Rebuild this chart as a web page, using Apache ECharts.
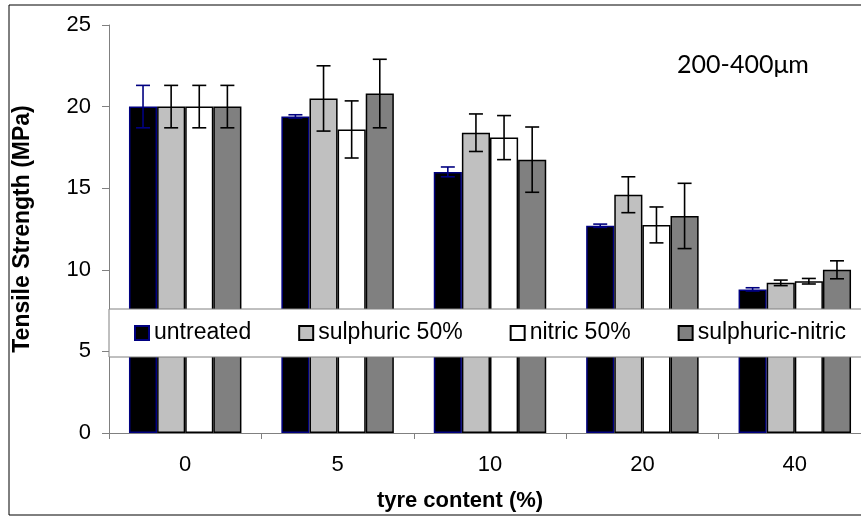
<!DOCTYPE html>
<html>
<head>
<meta charset="utf-8">
<script src="https://cdn.jsdelivr.net/npm/echarts@6/dist/echarts.min.js"></script>
<style>
  html, body { margin: 0; padding: 0; background: #ffffff; overflow: hidden; }
  /* the plot area runs past the right edge of the window, so the canvas is wider */
  #chart { width: 900px; height: 520px; }
</style>
</head>
<body>
<div id="chart"></div>
<script>
// Tyre content groups (% by weight)
var categories = ['0', '5', '10', '20', '40'];

// Mean tensile strength (MPa) and standard deviations per treatment
var untreated      = [20.0, 19.4, 16.0, 12.7, 8.8];
var untreatedErr   = [1.3, 0.1, 0.3, 0.1, 0.1];
var sulphuric      = [20.0, 20.5, 18.4, 14.6, 9.2];
var sulphuricErr   = [1.3, 2.0, 1.15, 1.1, 0.17];
var nitric         = [20.0, 18.6, 18.1, 12.75, 9.3];
var nitricErr      = [1.3, 1.75, 1.35, 1.1, 0.17];
var sulphNitric    = [20.0, 20.8, 16.75, 13.3, 10.0];
var sulphNitricErr = [1.3, 2.1, 2.0, 2.0, 0.55];

var seriesNames = ['untreated', 'sulphuric 50%', 'nitric 50%', 'sulphuric-nitric'];
var yTicks = [0, 5, 10, 15, 20, 25];

var means = [untreated, sulphuric, nitric, sulphNitric];
var errs = [untreatedErr, sulphuricErr, nitricErr, sulphNitricErr];
var fills = ['#000000', '#c0c0c0', '#ffffff', '#808080'];
var edges = ['#000080', '#000000', '#000000', '#000000'];
var whiskerColors = ['#000080', '#000000', '#000000', '#000000'];

var GAP = 0.262; // category gap ratio shared by bars and whiskers
var FONT = '"Liberation Sans", Arial, sans-serif';

var chart = echarts.init(document.getElementById('chart'), null, { renderer: 'canvas' });

function whiskerSeries(idx) {
  var data = means[idx].map(function (v, i) { return [i, v, errs[idx][i]]; });
  return {
    type: 'custom',
    name: 'err-' + idx,
    z: 5,
    silent: true,
    data: data,
    encode: { x: 0, y: 1 },
    renderItem: function (params, api) {
      var cat = api.value(0), v = api.value(1), e = api.value(2);
      var band = api.size([1, 0])[0];
      var barW = band * (1 - GAP) / 4;
      var x = api.coord([cat, v])[0] + (idx - 1.5) * barW;
      var yTop = api.coord([cat, v + e])[1];
      var yBot = api.coord([cat, v - e])[1];
      var half = 7;
      var st = { stroke: whiskerColors[idx], lineWidth: 1.6 };
      return {
        type: 'group',
        children: [
          { type: 'line', shape: { x1: x, y1: yTop, x2: x, y2: yBot }, style: st },
          { type: 'line', shape: { x1: x - half, y1: yTop, x2: x + half, y2: yTop }, style: st },
          { type: 'line', shape: { x1: x - half, y1: yBot, x2: x + half, y2: yBot }, style: st }
        ]
      };
    }
  };
}

var series = [];
seriesNames.forEach(function (name, idx) {
  series.push({
    type: 'bar',
    name: name,
    data: means[idx],
    barGap: '0%',
    barCategoryGap: (GAP * 100) + '%',
    itemStyle: { color: fills[idx], borderColor: edges[idx], borderWidth: 1.5 },
    z: 2
  });
});
seriesNames.forEach(function (name, idx) { series.push(whiskerSeries(idx)); });

var option = {
  animation: false,
  backgroundColor: '#ffffff',
  title: [
    {
      text: '200-400μm',
      left: 738, top: 47, textAlign: 'center',
      textStyle: { fontFamily: 'Lato, "Open Sans", sans-serif', fontSize: 25, fontWeight: 'normal', color: '#000' }
    },
    {
      text: 'tyre content (%)',
      left: 455, top: 485, textAlign: 'center',
      textStyle: { fontFamily: FONT, fontSize: 22, fontWeight: 'bold', color: '#000' }
    }
  ],
  graphic: [
    {
      type: 'rect', silent: true, z: -10,
      shape: { x: 9, y: 5, width: 880, height: 510 },
      style: { fill: 'none', stroke: '#000000', lineWidth: 1 }
    }
  ],
  legend: {
    data: seriesNames,
    left: 109, top: 309,
    width: 790,
    orient: 'horizontal',
    padding: [12, 45, 12, 25],
    itemGap: 47,
    itemWidth: 14, itemHeight: 14,
    icon: 'rect',
    backgroundColor: '#ffffff',
    borderColor: '#808080',
    borderWidth: 1,
    z: 10,
    selectedMode: false,
    textStyle: { fontFamily: FONT, fontSize: 23, lineHeight: 24, color: '#000' }
  },
  grid: { left: 109, top: 25, width: 762, height: 408, containLabel: false },
  xAxis: {
    type: 'category',
    data: categories,
    axisLine: { lineStyle: { color: '#808080', width: 1 } },
    axisTick: { show: true, length: 6, alignWithLabel: false, lineStyle: { color: '#808080' } },
    axisLabel: { margin: 21, fontFamily: FONT, fontSize: 22, color: '#000' },
    splitLine: { show: false }
  },
  yAxis: {
    type: 'value',
    min: yTicks[0], max: yTicks[yTicks.length - 1], interval: 5,
    name: 'Tensile Strength (MPa)',
    nameLocation: 'middle',
    nameGap: 75,
    nameTextStyle: { fontFamily: FONT, fontSize: 23, fontWeight: 'bold', color: '#000' },
    axisLine: { show: true, lineStyle: { color: '#808080', width: 1 } },
    axisTick: { show: true, length: 7, lineStyle: { color: '#808080' } },
    axisLabel: { margin: 18, fontFamily: FONT, fontSize: 22, color: '#000' },
    splitLine: { show: false }
  },
  series: series
};

chart.setOption(option);
</script>
</body>
</html>
